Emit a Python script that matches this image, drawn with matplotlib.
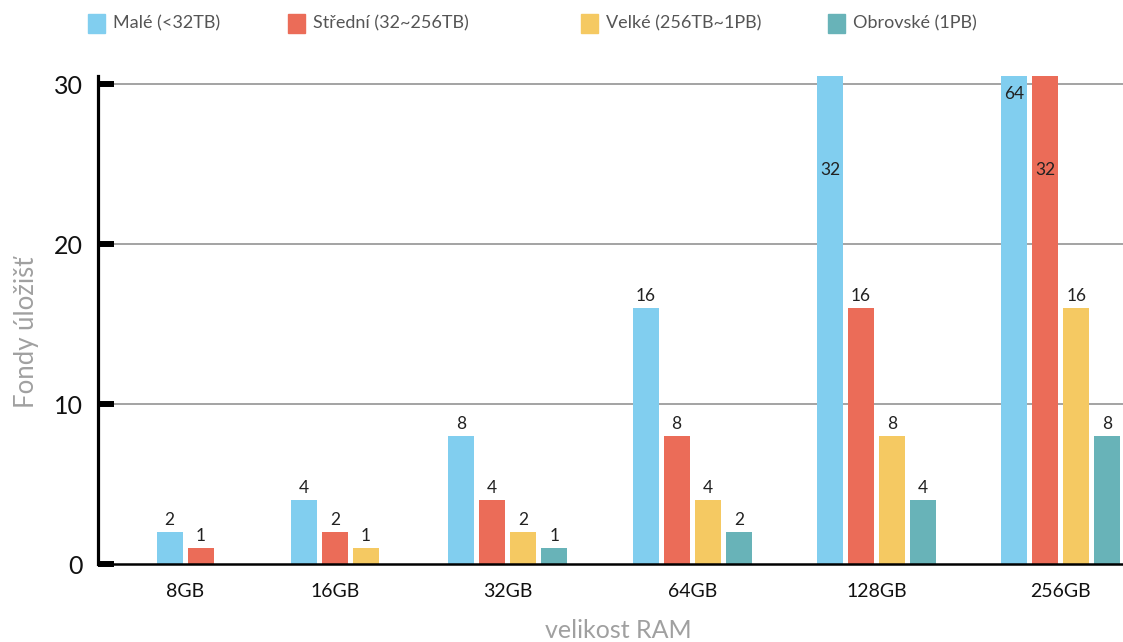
import matplotlib as mpl
import matplotlib.pyplot as plt
from matplotlib.patches import Rectangle
import numpy as np

plt.rcParams['font.family'] = ['Lato', 'DejaVu Sans']

# data
categories = ['8GB', '16GB', '32GB', '64GB', '128GB', '256GB']
series = ['Malé (<32TB)', 'Střední (32~256TB)', 'Velké (256TB~1PB)', 'Obrovské (1PB)']
male = [2, 4, 8, 16, 32, 64]
stredni = [1, 2, 4, 8, 16, 32]
velke = [0, 1, 2, 4, 8, 16]
obrovske = [0, 0, 1, 2, 4, 8]
colors = ['#81CEEF', '#EB6C58', '#F5C962', '#68B3B8']

values = [male, stredni, velke, obrovske]
YMAX = 30.5

fig = plt.figure(figsize=(11.23, 6.42), dpi=100)
ax = fig.add_axes([98/1123, 78/642, 1025/1123, 488/642])

# group widths depend on how many bars a group has
slot = 31/184
bw = 26/184
nbars = [sum(1 for s in values if s[i] > 0) for i in range(len(categories))]
bands = [0.5 + 0.125*n for n in nbars]
centers = np.cumsum(bands) - np.array(bands)/2

for i, cat in enumerate(categories):
    present = [k for k in range(len(series)) if values[k][i] > 0]
    n = len(present)
    for j, k in enumerate(present):
        v = values[k][i]
        x = centers[i] + (j - (n-1)/2)*slot
        ax.bar(x, v, width=bw, color=colors[k], zorder=3)
        if v <= YMAX:
            ax.text(x, v + 0.25, str(v), ha='center', va='bottom', fontsize=12.5, color='#222222', zorder=4)
        else:
            # clipped bars get their label inside
            ly = 29.4 if v > 40 else 24.6
            ax.text(x, ly, str(v), ha='center', va='center', fontsize=12.5, color='#222222', zorder=4)

ax.set_xlim(centers[0] - 87/184, centers[-1] + 62/184)
ax.set_ylim(0, YMAX)
ax.set_xticks(centers)
ax.set_xticklabels(categories, fontsize=14, color='#111111')
ax.set_yticks([0, 10, 20, 30])
ax.set_yticklabels(['0', '10', '20', '30'], fontsize=18, color='#111111')
ax.tick_params(axis='x', length=0, pad=14)
ax.tick_params(axis='y', direction='in', length=11.5, width=4.3, pad=11, color='black')

for s in ['top', 'right']:
    ax.spines[s].set_visible(False)
ax.spines['left'].set_linewidth(2.3)
ax.spines['bottom'].set_linewidth(1.8)
ax.spines['left'].set_zorder(5)
ax.spines['bottom'].set_zorder(5)

for yv in [10, 20, 30]:
    ax.axhline(yv, color='#8a8a8a', lw=1.1, zorder=1)

ax.set_ylabel('Fondy úložišť', fontsize=18.5, color='#a0a0a0')
ax.yaxis.set_label_coords(-0.058, 0.475)
ax.set_xlabel('velikost RAM', fontsize=18, color='#a0a0a0')
ax.xaxis.set_label_coords(0.508, -0.113)

# legend drawn by hand at fixed spots
leg_x = [88, 288, 581, 828]
for k, name in enumerate(series):
    x0 = leg_x[k]
    fig.patches.append(Rectangle((x0/1123, 1 - 33/642), 17/1123, 19/642,
                                 transform=fig.transFigure, color=colors[k]))
    fig.text((x0 + 25)/1123, 1 - 23.5/642, name, fontsize=13, color='#555555',
             ha='left', va='center')

fig.savefig('out.png', dpi=100)
